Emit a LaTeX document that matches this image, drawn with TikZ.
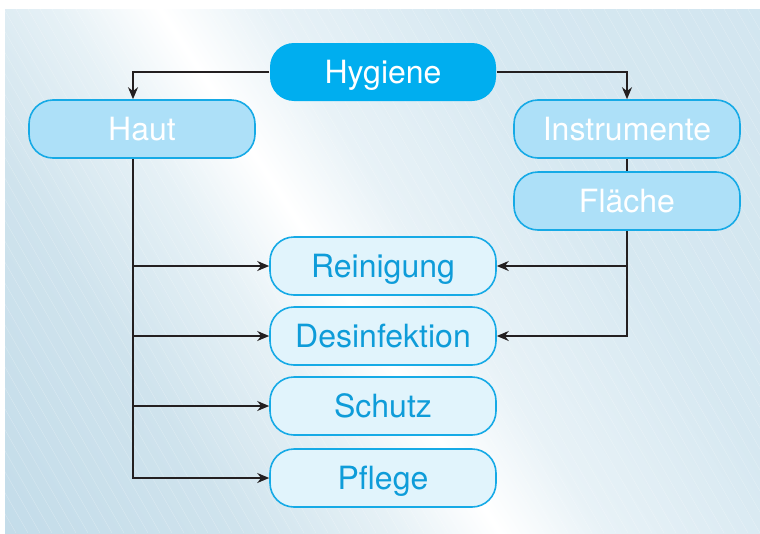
\documentclass[tikz,border=0pt]{standalone}
\usepackage{fontspec}
\setmainfont{TeX Gyre Heros}
\usetikzlibrary{arrows.meta}

\definecolor{hygblue}{HTML}{00AEEF}
\definecolor{boxline}{HTML}{16AAE6}
\definecolor{midfill}{HTML}{ADE0F8}
\definecolor{lightfill}{HTML}{E1F4FC}
\definecolor{lighttext}{HTML}{0E9CD9}
\definecolor{arrowgray}{HTML}{231F20}
\definecolor{bgdark}{HTML}{B2D1E2}
\definecolor{bgleft}{HTML}{B9D6E6}
\definecolor{bgleftmid}{HTML}{CFE3ED}
\definecolor{bgleftpale}{HTML}{E6F1F6}
\definecolor{bgrightpale}{HTML}{E8F2F7}
\definecolor{bgrightmid}{HTML}{D6E8F1}
\definecolor{bgright}{HTML}{C9E0EC}

\pgfdeclarehorizontalshading{streak}{100bp}{color(0bp)=(bgdark); color(23bp)=(bgleft); color(40bp)=(bgleftmid); color(46bp)=(bgleftpale); color(50bp)=(white); color(54bp)=(bgrightpale); color(62bp)=(bgrightmid); color(100bp)=(bgright)}

\begin{document}
\begin{tikzpicture}[x=1pt, y=1pt,
	font=\fontsize{32}{38}\selectfont,
	box/.style={rounded corners=24pt, minimum width=226pt, minimum height=58pt,
		inner sep=0pt, text height=23pt, text depth=0pt, line width=1.6pt},
	topbox/.style={box, fill=hygblue, text=white},
	midbox/.style={box, draw=boxline, fill=midfill, text=white},
	leafbox/.style={box, draw=boxline, fill=lightfill, text=lighttext},
	link/.style={draw=arrowgray, line width=1.8pt},
	arr/.style={link, -{Stealth[length=12pt, width=10pt]}}]
	
	\useasboundingbox (0,0) rectangle (760,-533);
	
	% background
	\begin{scope}
		\clip (5,-9) rectangle (760,-533);
		\shade[shading=streak, shading angle=33] (-220,-821) rectangle (880,279);
		\foreach \i in {-320,-308,...,760}
			\draw[white, opacity=0.3, line width=0.4pt] (\i,-9) -- ++(300,-524);
	\end{scope}
	
	% boxes
	\node[topbox] (hyg) at (383,-72) {Hygiene};
	\node[midbox] (haut) at (142,-129) {Haut};
	\node[midbox] (ins) at (627,-129) {Instrumente};
	\node[midbox] (fla) at (627,-201) {Fläche};
	\node[leafbox] (rei) at (383,-266) {Reinigung};
	\node[leafbox] (des) at (383,-336) {Desinfektion};
	\node[leafbox] (sch) at (383,-406) {Schutz};
	\node[leafbox] (pfl) at (383,-478) {Pflege};
	
	% connectors
	\coordinate (hl) at ([xshift=-9pt]haut.south);
	\draw[arr] (hyg.west) -| ([xshift=-9pt]haut.north);
	\draw[arr] (hl) |- (pfl.west);
	\foreach \n in {rei,des,sch}
		\draw[arr] (hl |- \n.west) -- (\n.west);
	
	\draw[arr] (hyg.east) -| (ins.north);
	\draw[link] (ins.south) -- (fla.north);
	\draw[arr] (fla.south) |- (des.east);
	\draw[arr] (fla.south |- rei.east) -- (rei.east);
\end{tikzpicture}
\end{document}
